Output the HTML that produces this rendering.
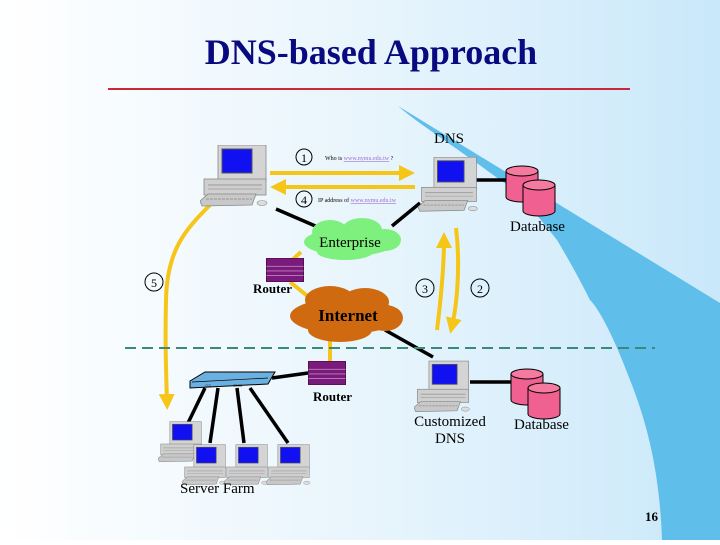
<!DOCTYPE html>
<html><head><meta charset="utf-8"><style>
html,body{margin:0;padding:0}
body{width:720px;height:540px;overflow:hidden;font-family:"Liberation Serif",serif}
</style></head><body>
<svg width="720" height="540" viewBox="0 0 720 540" xmlns="http://www.w3.org/2000/svg">
<defs>
<linearGradient id="bg" x1="0" y1="0" x2="1" y2="0">
<stop offset="0" stop-color="#ffffff"/><stop offset="0.55" stop-color="#e6f4fc"/><stop offset="1" stop-color="#c9e8fa"/>
</linearGradient>
<symbol id="pc" viewBox="0 0 70 65">
<rect x="18" y="0" width="48" height="36" fill="#d4d4d4" stroke="#888" stroke-width="0.8"/>
<rect x="22" y="4" width="30" height="24" fill="#1010f0" stroke="#555" stroke-width="1"/>
<rect x="4" y="34" width="62" height="16" fill="#cfcfcf" stroke="#888" stroke-width="0.8"/>
<line x1="8" y1="40" x2="62" y2="40" stroke="#999"/>
<line x1="8" y1="44" x2="62" y2="44" stroke="#aaa"/>
<polygon points="0,56 8,49 56,49 52,60 2,61" fill="#c8c8c8" stroke="#888" stroke-width="0.8"/>
<line x1="6" y1="54" x2="52" y2="54" stroke="#999" stroke-dasharray="3 1"/>
<ellipse cx="62" cy="58" rx="5" ry="2.5" fill="#ddd" stroke="#888" stroke-width="0.6"/>
</symbol>
<symbol id="db" viewBox="0 0 52 52">
<path d="M1,6 v26 a16,5 0 0 0 32,0 v-26" fill="#f06090" stroke="#000" stroke-width="1"/>
<ellipse cx="17" cy="6" rx="16" ry="5" fill="#f47aa0" stroke="#000" stroke-width="1"/>
<path d="M18,20 v26 a16,5 0 0 0 32,0 v-26" fill="#f06090" stroke="#000" stroke-width="1"/>
<ellipse cx="34" cy="20" rx="16" ry="5" fill="#f47aa0" stroke="#000" stroke-width="1"/>
</symbol>
<symbol id="rt" viewBox="0 0 40 26">
<rect x="0" y="0" width="40" height="26" fill="#7a1a7a" stroke="#400040"/>
<line x1="0" y1="9" x2="40" y2="9" stroke="#c080c0"/>
<line x1="0" y1="14" x2="40" y2="14" stroke="#c080c0"/>
<line x1="0" y1="19" x2="40" y2="19" stroke="#c080c0"/>
</symbol>
<marker id="ah" markerWidth="4" markerHeight="4" refX="2" refY="2" orient="auto"><path d="M0,0 L4,2 L0,4z" fill="#f5c518"/></marker>
</defs>
<rect width="720" height="540" fill="url(#bg)"/>
<path d="M398,106 L720,303 L720,540 L662,540 C660,480 650,430 630,380 C615,340 600,310 590,300 C575,270 560,245 557,240 C530,205 510,185 500,180 C460,150 420,125 398,106 Z" fill="#5fbeea"/>
<text x="371" y="64" text-anchor="middle" font-family="Liberation Serif" font-weight="bold" font-size="36" fill="#0a0a80">DNS-based Approach</text>
<line x1="108" y1="89" x2="630" y2="89" stroke="#c8283a" stroke-width="2"/>
<g stroke="#000" stroke-width="3.5">
<line x1="276" y1="209" x2="320" y2="228"/>
<line x1="420" y1="203" x2="392" y2="226"/>
<line x1="476" y1="180" x2="510" y2="180"/>
<line x1="385" y1="330" x2="433" y2="357"/>
<line x1="470" y1="382" x2="512" y2="382"/>
<line x1="272" y1="378" x2="308" y2="373"/>
<line x1="205" y1="388" x2="188" y2="423"/>
<line x1="218" y1="388" x2="210" y2="443"/>
<line x1="237" y1="388" x2="244" y2="443"/>
<line x1="250" y1="388" x2="288" y2="443"/>
</g>
<g stroke="#f5c518" stroke-width="4" fill="none">
<line x1="301" y1="252" x2="290" y2="262"/>
<line x1="290" y1="282" x2="310" y2="298"/>
<line x1="330" y1="335" x2="330" y2="362"/>
<line x1="270" y1="173" x2="407" y2="173" marker-end="url(#ah)"/>
<line x1="415" y1="187" x2="278" y2="187" marker-end="url(#ah)"/>
<path d="M437,330 C442,290 444,260 444,240" marker-end="url(#ah)"/>
<path d="M456,228 C460,260 458,300 452,326" marker-end="url(#ah)"/>
<path d="M210,205 C185,230 167,250 166,300 C165,340 166,370 167,402" marker-end="url(#ah)"/>
</g>
<g fill="#7ef07e">
<ellipse cx="350" cy="242" rx="46" ry="14"/><ellipse cx="330" cy="232" rx="18" ry="12"/><ellipse cx="362" cy="230" rx="20" ry="12"/><ellipse cx="385" cy="240" rx="16" ry="11"/><ellipse cx="345" cy="252" rx="28" ry="8"/>
</g>
<g fill="#d06a10">
<ellipse cx="345" cy="316" rx="55" ry="18"/><ellipse cx="330" cy="300" rx="25" ry="14"/><ellipse cx="365" cy="302" rx="24" ry="14"/><ellipse cx="340" cy="330" rx="32" ry="12"/><ellipse cx="385" cy="318" rx="18" ry="13"/>
</g>
<text x="350" y="247" text-anchor="middle" font-size="15" fill="#000">Enterprise</text>
<text x="348" y="321" text-anchor="middle" font-size="17" font-weight="bold" fill="#000">Internet</text>
<line x1="125" y1="348" x2="655" y2="348" stroke="#3a8a7a" stroke-width="2" stroke-dasharray="11 6"/>
<use href="#pc" x="200" y="145" width="70" height="65"/>
<use href="#pc" x="418" y="157" width="62" height="58"/>
<use href="#pc" x="414" y="360" width="58" height="56"/>
<use href="#pc" x="158" y="420" width="46" height="46"/>
<use href="#pc" x="182" y="443" width="46" height="46"/>
<use href="#pc" x="224" y="443" width="46" height="46"/>
<use href="#pc" x="266" y="443" width="46" height="46"/>
<use href="#db" x="505" y="165" width="52" height="52"/>
<use href="#db" x="510" y="368" width="52" height="52"/>
<use href="#rt" x="265" y="258" width="40" height="24"/>
<use href="#rt" x="307" y="361" width="40" height="24"/>
<polygon points="190,381 205,372 275,372 268,384 190,388" fill="#6ab0e0" stroke="#000" stroke-width="1"/>
<line x1="192" y1="382" x2="268" y2="378" stroke="#000" stroke-width="0.7"/>
<text x="205" y="387" font-size="5" fill="#000">○○</text><text x="233" y="387" font-size="5" fill="#000">▭▭</text>
<g fill="none" stroke="#000" stroke-width="1">
<circle cx="304" cy="157" r="8"/><circle cx="304" cy="199" r="8"/><circle cx="154" cy="282" r="9"/><circle cx="425" cy="288" r="9"/><circle cx="480" cy="288" r="9"/>
</g>
<g font-size="12" text-anchor="middle" fill="#000">
<text x="304" y="162">1</text><text x="304" y="204">4</text><text x="154" y="287">5</text><text x="425" y="293">3</text><text x="480" y="293">2</text>
</g>
<text x="325" y="160" font-size="6" fill="#000">Who is <tspan fill="#a070d0" text-decoration="underline">www.nymu.edu.tw</tspan> ?</text>
<text x="318" y="202" font-size="6" fill="#000">IP address of <tspan fill="#a070d0" text-decoration="underline">www.nymu.edu.tw</tspan></text>
<g font-size="15" fill="#000">
<text x="434" y="143">DNS</text>
<text x="510" y="231">Database</text>
<text x="253" y="293" font-size="13" font-weight="bold">Router</text>
<text x="313" y="401" font-size="13" font-weight="bold">Router</text>
<text x="450" y="426" text-anchor="middle">Customized</text>
<text x="450" y="443" text-anchor="middle">DNS</text>
<text x="514" y="429">Database</text>
<text x="180" y="493">Server Farm</text>
<text x="645" y="521" font-size="13" font-weight="bold">16</text>
</g>
</svg>
</body></html>
